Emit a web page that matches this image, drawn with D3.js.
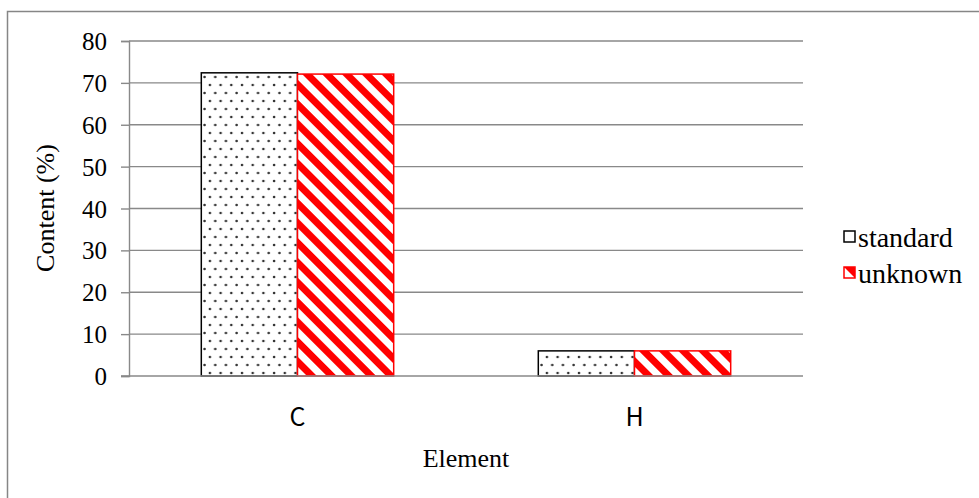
<!DOCTYPE html>
<html>
<head>
<meta charset="utf-8">
<script src="https://cdn.jsdelivr.net/npm/d3@7"></script>
<style>
  html, body { margin: 0; padding: 0; background: #fff; }
  svg { display: block; }
</style>
</head>
<body>
<svg id="chart" width="979" height="498"></svg>
<script>
// Elemental analysis: carbon and hydrogen content of the two samples
const categories = ["C", "H"];
const seriesNames = ["standard", "unknown"];
const standardValues = [72.4, 6.0];
const unknownValues = [72.1, 6.0];
const yTicks = [0, 10, 20, 30, 40, 50, 60, 70, 80];

const serif = "'Liberation Serif', 'Times New Roman', serif";
const svg = d3.select("#chart");
const defs = svg.append("defs");

// Dotted fill for the "standard" series
const dots = defs.append("pattern")
  .attr("id", "dots").attr("patternUnits", "userSpaceOnUse")
  .attr("width", 21.4).attr("height", 16).attr("x", 3).attr("y", 2);
dots.append("rect").attr("width", 21.4).attr("height", 16).attr("fill", "#fff");
[[3, 3], [13.7, 3], [8.35, 11], [19.05, 11]].forEach(([cx, cy]) =>
  dots.append("circle").attr("cx", cx).attr("cy", cy).attr("r", 1.3).attr("fill", "#333"));

// Red diagonal hatching for the "unknown" series
const hatch = defs.append("pattern")
  .attr("id", "hatch").attr("patternUnits", "userSpaceOnUse")
  .attr("width", 14).attr("height", 14)
  .attr("patternTransform", "rotate(-45)");
hatch.append("rect").attr("width", 14).attr("height", 14).attr("fill", "#fff");
hatch.append("rect").attr("width", 7).attr("height", 14).attr("fill", "#ff0000");

// Outer chart frame
svg.append("rect")
  .attr("x", 7.5).attr("y", 11.5).attr("width", 980).attr("height", 500)
  .attr("fill", "none").attr("stroke", "#868686").attr("stroke-width", 1.5);

const plot = { left: 129, right: 803, top: 41, bottom: 376 };

const x = d3.scaleBand().domain(categories)
  .range([plot.left, plot.right]).paddingInner(0).paddingOuter(0);
const x1 = d3.scaleBand().domain(seriesNames)
  .range([0, x.bandwidth()]).paddingInner(0).paddingOuter(0.7517);
const y = d3.scaleLinear().domain([0, 80]).range([plot.bottom, plot.top]);

// Horizontal gridlines
svg.append("g").selectAll("line")
  .data(yTicks.filter(t => t > 0))
  .join("line")
  .attr("x1", plot.left).attr("x2", plot.right)
  .attr("y1", d => y(d)).attr("y2", d => y(d))
  .attr("stroke", "#898989").attr("stroke-width", 1.4);

// Value axis
const yAxis = svg.append("g")
  .attr("transform", `translate(${plot.left},0)`)
  .call(d3.axisLeft(y).tickValues(yTicks).tickSize(8).tickPadding(14).tickFormat(d3.format("d")));
yAxis.select(".domain").attr("stroke", "#898989").attr("stroke-width", 1.4);
yAxis.selectAll(".tick line").attr("stroke", "#898989").attr("stroke-width", 1.4);
yAxis.selectAll(".tick text")
  .attr("font-family", serif).attr("font-size", 25).attr("fill", "#000")
  .attr("dy", "0.34em");

// Bars
const rows = categories.map((c, i) => ({
  category: c,
  values: [
    { key: "standard", value: standardValues[i] },
    { key: "unknown", value: unknownValues[i] }
  ]
}));
const styleOf = {
  standard: { fill: "url(#dots)", stroke: "#000" },
  unknown: { fill: "url(#hatch)", stroke: "#ff0000" }
};
svg.append("g").selectAll("g")
  .data(rows).join("g")
  .attr("transform", d => `translate(${x(d.category)},0)`)
  .selectAll("rect")
  .data(d => d.values).join("rect")
  .attr("x", d => x1(d.key))
  .attr("y", d => y(d.value))
  .attr("width", x1.bandwidth())
  .attr("height", d => y(0) - y(d.value))
  .attr("fill", d => styleOf[d.key].fill)
  .attr("stroke", d => styleOf[d.key].stroke)
  .attr("stroke-width", 1.5);

// Category axis line
svg.append("line")
  .attr("x1", plot.left - 8).attr("x2", plot.right)
  .attr("y1", plot.bottom).attr("y2", plot.bottom)
  .attr("stroke", "#898989").attr("stroke-width", 1.4);

// Category labels
svg.append("g").selectAll("text")
  .data(categories).join("text")
  .attr("x", d => x(d) + x.bandwidth() / 2)
  .attr("y", 426)
  .attr("text-anchor", "middle")
  .attr("font-family", "'Noto Sans CJK KR', 'Noto Sans', sans-serif")
  .attr("font-size", 25)
  .attr("fill", "#000")
  .text(d => d);

// Axis titles
svg.append("text")
  .attr("x", 466).attr("y", 467)
  .attr("text-anchor", "middle")
  .attr("font-family", serif).attr("font-size", 26).attr("fill", "#000")
  .text("Element");
svg.append("text")
  .attr("transform", "translate(54,208) rotate(-90)")
  .attr("text-anchor", "middle")
  .attr("font-family", serif).attr("font-size", 26).attr("fill", "#000")
  .text("Content (%)");

// Legend
const legend = svg.append("g").selectAll("g")
  .data(seriesNames).join("g")
  .attr("transform", (d, i) => `translate(844,${231 + i * 36})`);
legend.append("rect")
  .attr("width", 11).attr("height", 11)
  .attr("fill", d => d === "standard" ? "#fff" : "url(#hatch)")
  .attr("stroke", d => styleOf[d].stroke).attr("stroke-width", 1.5);
legend.append("text")
  .attr("x", 14).attr("y", 16)
  .attr("font-family", serif).attr("font-size", 28).attr("fill", "#000")
  .text(d => d);
</script>
</body>
</html>
